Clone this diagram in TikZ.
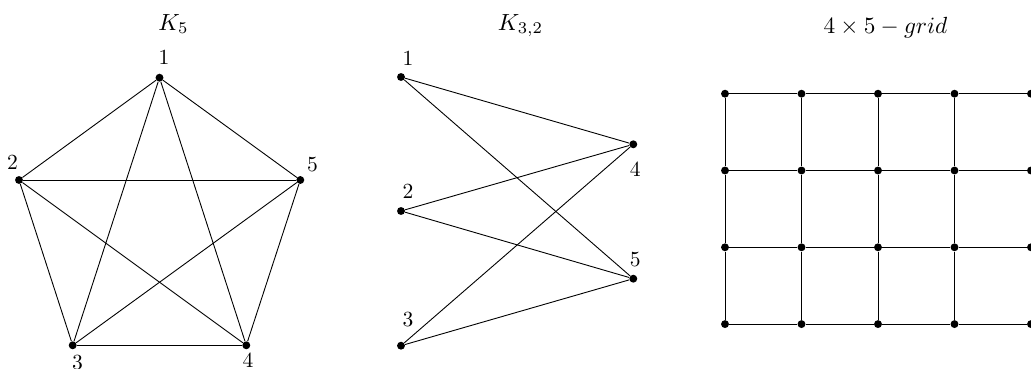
\documentclass[tikz,border=0pt]{standalone}
\usepackage{graphicx}
\begin{document}
\begin{tikzpicture}[x=0.01956cm,y=-0.01956cm,
  vtx/.style={circle,fill=black,inner sep=0pt,minimum size=4.4pt},
  lbl/.style={inner sep=0pt},
  ttl/.style={inner sep=0pt,anchor=base},
  edge/.style={draw=black,line width=0.5pt}]
\useasboundingbox (0,0) rectangle (1031,369);
% ---- K5 ----
\node[ttl] (tK5) at (173.5,30.3) {\scalebox{1.3}{$K_5$}};
\node[vtx] (a1) at (159.5,77.7) {};
\node[vtx] (a2) at (19,180) {};
\node[vtx] (a3) at (72.7,345.3) {};
\node[vtx] (a4) at (246.3,345.3) {};
\node[vtx] (a5) at (300.3,180) {};
\node[lbl] (la1) at (164,58) {\scalebox{1.2}{$1$}};
\node[lbl] (la2) at (12.5,163) {\scalebox{1.2}{$2$}};
\node[lbl] (la3) at (77.5,362.5) {\scalebox{1.2}{$3$}};
\node[lbl] (la4) at (248,361) {\scalebox{1.2}{$4$}};
\node[lbl] (la5) at (312.5,165) {\scalebox{1.2}{$5$}};
\foreach \u/\v in {a1/a2,a1/a3,a1/a4,a1/a5,a2/a3,a2/a4,a2/a5,a3/a4,a3/a5,a4/a5}
  \draw[edge] (\u) -- (\v);
% ---- K32 ----
\node[ttl] (tK32) at (520.5,30.3) {\scalebox{1.3}{$K_{3,2}$}};
\node[vtx] (b1) at (401,77) {};
\node[vtx] (b2) at (401,211) {};
\node[vtx] (b3) at (401,345.7) {};
\node[vtx] (b4) at (633.3,144.3) {};
\node[vtx] (b5) at (633.3,278.7) {};
\node[lbl] (lb1) at (408,59) {\scalebox{1.2}{$1$}};
\node[lbl] (lb2) at (408,191.7) {\scalebox{1.2}{$2$}};
\node[lbl] (lb3) at (408,320) {\scalebox{1.2}{$3$}};
\node[lbl] (lb4) at (635.3,170) {\scalebox{1.2}{$4$}};
\node[lbl] (lb5) at (635.3,260) {\scalebox{1.2}{$5$}};
\foreach \u in {b1,b2,b3}
  \foreach \v in {b4,b5}
    \draw[edge] (\u) -- (\v);
% ---- grid ----
\node[ttl] (tG) at (885.5,33.3) {\scalebox{1.3}{$4\times5-grid$}};
\foreach \i in {0,...,4}
  \foreach \j in {0,...,3}
    \node[vtx] (g\i\j) at ({725+76.5*\i},{93.7+76.8*\j}) {};
\foreach \i in {0,...,4}
  \foreach \j/\k in {0/1,1/2,2/3}
    \draw[edge] (g\i\j) -- (g\i\k);
\foreach \j in {0,...,3}
  \foreach \i/\k in {0/1,1/2,2/3,3/4}
    \draw[edge] (g\i\j) -- (g\k\j);
\end{tikzpicture}
\end{document}
